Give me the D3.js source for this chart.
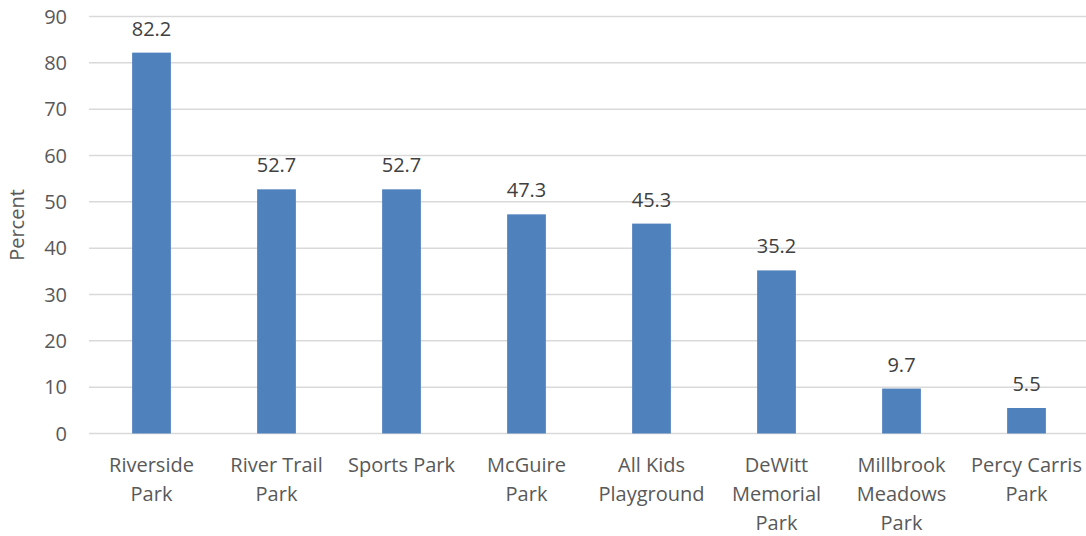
<!DOCTYPE html>
<html><head><meta charset="utf-8">
<script src="https://cdn.jsdelivr.net/npm/d3@7"></script>
<style>body{margin:0;background:#fff}svg{display:block}</style>
</head><body>
<svg id="c" width="1086" height="536"></svg>
<script>
const categories = [["Riverside","Park"],["River Trail","Park"],["Sports Park"],["McGuire","Park"],["All Kids","Playground"],["DeWitt","Memorial","Park"],["Millbrook","Meadows","Park"],["Percy Carris","Park"]];
const values = [82.2, 52.7, 52.7, 47.3, 45.3, 35.2, 9.7, 5.5];
const yTicks = [0,10,20,30,40,50,60,70,80,90];
const yTitle = "Percent";

const svg = d3.select("#c");
const font = "'Open Sans', sans-serif";
const fs = 20;
const txt = "#595959";
const x = d3.scaleBand().domain(d3.range(categories.length)).range([89, 1089]).paddingInner(0.69).paddingOuter(0.345);
const y = d3.scaleLinear().domain([0, 90]).range([433.5, 16.5]);

const g = svg.append("g");
g.selectAll("line.grid").data(yTicks).join("line")
  .attr("x1", 89).attr("x2", 1086)
  .attr("y1", d => y(d)).attr("y2", d => y(d))
  .attr("stroke", "#d9d9d9").attr("stroke-width", 1.5);

g.selectAll("text.yt").data(yTicks).join("text")
  .attr("x", 67).attr("y", d => y(d)).attr("dy", "0.35em")
  .attr("text-anchor", "end").attr("font-family", font).attr("font-size", fs).attr("fill", txt)
  .text(d => d);

g.selectAll("rect.bar").data(values).join("rect")
  .attr("x", (d,i) => x(i)).attr("width", x.bandwidth())
  .attr("y", d => y(d)).attr("height", d => y(0) - y(d))
  .attr("fill", "#4f81bd");

g.selectAll("text.val").data(values).join("text")
  .attr("x", (d,i) => x(i) + x.bandwidth()/2).attr("y", d => y(d) - 17)
  .attr("text-anchor", "middle").attr("font-family", font).attr("font-size", fs).attr("fill", "#404040")
  .text(d => d.toFixed(1));

const cl = g.selectAll("text.cat").data(categories).join("text")
  .attr("text-anchor", "middle").attr("font-family", font).attr("font-size", fs).attr("fill", txt);
cl.each(function(d,i){
  const t = d3.select(this);
  d.forEach((line, j) => {
    t.append("tspan").attr("x", x(i) + x.bandwidth()/2).attr("y", 472 + j*29).text(line);
  });
});

svg.append("text")
  .attr("transform", `translate(24,${(y(0)+y(90))/2}) rotate(-90)`)
  .attr("text-anchor", "middle").attr("font-family", font).attr("font-size", fs).attr("fill", txt)
  .text(yTitle);
</script>
</body></html>
